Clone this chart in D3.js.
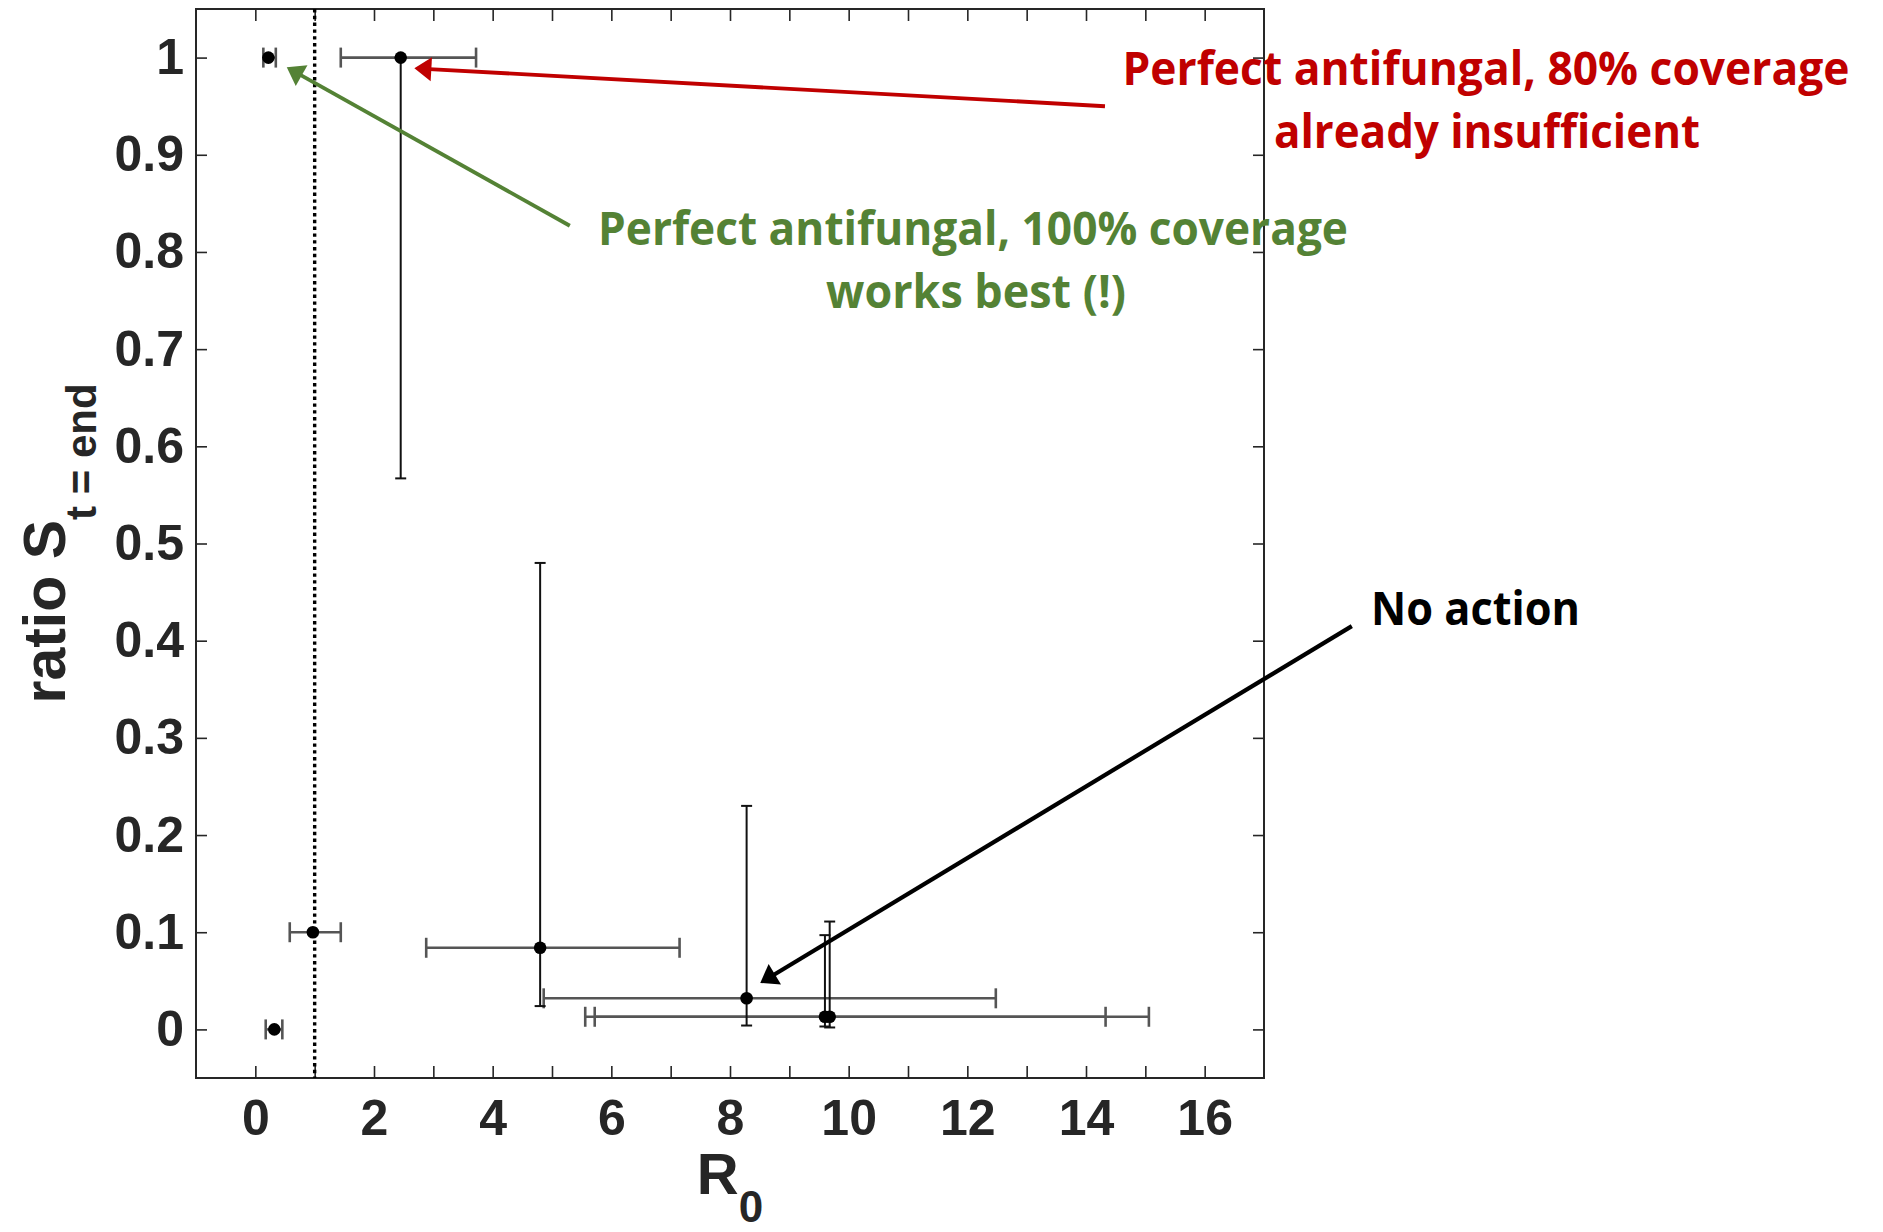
<!DOCTYPE html>
<html>
<head>
<meta charset="utf-8">
<script src="https://cdn.jsdelivr.net/npm/d3@7"></script>
<style>
  html, body { margin: 0; padding: 0; background: #ffffff; }
  svg { display: block; }
</style>
</head>
<body>
<svg id="chart" width="1883" height="1232"></svg>
<script>
// ---------- data ----------
const pointNames = ["A", "B", "C", "D", "E", "F", "G", "H"];
const r0Values  = [0.22, 2.45, 0.32, 0.97, 4.80, 8.28, 9.60, 9.68];
const r0Low     = [0.135, 1.44, 0.175, 0.58, 2.88, 4.86, 5.56, 5.72];
const r0High    = [0.345, 3.72, 0.455, 1.44, 7.15, 12.48, 14.33, 15.06];
const ratioValues = [1.0, 1.0, 0.0, 0.10, 0.084, 0.032, 0.013, 0.013];
const ratioLow    = [1.0, 0.567, 0.0, 0.10, 0.024, 0.004, 0.003, 0.002];
const ratioHigh   = [1.0, 1.0, 0.0, 0.10, 0.480, 0.230, 0.097, 0.111];

const xTickValues = [0,1,2,3,4,5,6,7,8,9,10,11,12,13,14,15,16];
const xTickLabels = ["0","","2","","4","","6","","8","","10","","12","","14","","16"];
const yTickValues = [0,0.1,0.2,0.3,0.4,0.5,0.6,0.7,0.8,0.9,1];
const yTickLabels = ["0","0.1","0.2","0.3","0.4","0.5","0.6","0.7","0.8","0.9","1"];
const thresholdR0 = 1;

const xLabelMain = "R", xLabelSub = "0";
const yLabelMain = "ratio S", yLabelSub = "t = end";

// annotation arrows in data coordinates (tip -> target point)
const arrowColors = ["#C00000", "#548235", "#000000"];
const arrowTailX = [14.32, 5.30, 18.48];
const arrowTailY = [0.950, 0.827, 0.415];
const arrowTipX  = [2.68, 0.53, 8.51];
const arrowTipY  = [0.989, 0.990, 0.0478];

const noteLines = [
  "Perfect antifungal, 80% coverage",
  "already insufficient",
  "Perfect antifungal, 100% coverage",
  "works best (!)",
  "No action"
];
const noteColors = ["#C00000", "#C00000", "#548235", "#548235", "#000000"];

// ---------- layout ----------
const svg = d3.select("#chart");
const plot = {left: 196, right: 1264, top: 9, bottom: 1078};
const axisColor = "#262626";

const x = d3.scaleLinear().domain([-1, 17]).range([plot.left, plot.right]);
const y = d3.scaleLinear().domain([-0.05, 1.05]).range([plot.bottom, plot.top]);

const tickFont = "'Liberation Sans', Arial, Helvetica, sans-serif";

function styleAxis(g) {
  g.select(".domain").remove();
  g.selectAll(".tick line").attr("stroke", axisColor).attr("stroke-width", 1.6);
  g.selectAll(".tick text")
    .attr("fill", axisColor)
    .style("font-family", tickFont)
    .style("font-weight", "bold")
    .style("font-size", "50px");
}

svg.append("g")
  .attr("transform", `translate(0,${plot.bottom})`)
  .call(d3.axisBottom(x).tickValues(xTickValues)
        .tickFormat((d, i) => xTickLabels[i]).tickSize(-12).tickPadding(21))
  .call(styleAxis);

svg.append("g")
  .attr("transform", `translate(0,${plot.top})`)
  .call(d3.axisTop(x).tickValues(xTickValues).tickFormat("").tickSize(-12))
  .call(styleAxis);

svg.append("g")
  .attr("transform", `translate(${plot.left},0)`)
  .call(d3.axisLeft(y).tickValues(yTickValues)
        .tickFormat((d, i) => yTickLabels[i]).tickSize(-11).tickPadding(12))
  .call(styleAxis);

svg.append("g")
  .attr("transform", `translate(${plot.right},0)`)
  .call(d3.axisRight(y).tickValues(yTickValues).tickFormat("").tickSize(-11))
  .call(styleAxis);

svg.append("rect")
  .attr("x", plot.left).attr("y", plot.top)
  .attr("width", plot.right - plot.left).attr("height", plot.bottom - plot.top)
  .attr("fill", "none").attr("stroke", axisColor).attr("stroke-width", 2);

svg.append("line")
  .attr("x1", x(thresholdR0)).attr("x2", x(thresholdR0))
  .attr("y1", plot.top).attr("y2", plot.bottom)
  .attr("stroke", "#000").attr("stroke-width", 3.4)
  .attr("stroke-dasharray", "3.4,3.4");

const rows = pointNames.map((n, i) => ({
  name: n, x: r0Values[i], xl: r0Low[i], xh: r0High[i],
  y: ratioValues[i], yl: ratioLow[i], yh: ratioHigh[i]
}));

const hbar = svg.append("g").attr("stroke", "#555").attr("stroke-width", 2.6);
rows.forEach(d => {
  hbar.append("line").attr("x1", x(d.xl)).attr("x2", x(d.xh))
    .attr("y1", y(d.y)).attr("y2", y(d.y));
  [d.xl, d.xh].forEach(v => {
    hbar.append("line").attr("x1", x(v)).attr("x2", x(v))
      .attr("y1", y(d.y) - 10).attr("y2", y(d.y) + 10);
  });
});

const vbar = svg.append("g").attr("stroke", "#111").attr("stroke-width", 2);
rows.forEach(d => {
  if (d.yl === d.y && d.yh === d.y) return;
  vbar.append("line").attr("x1", x(d.x)).attr("x2", x(d.x))
    .attr("y1", y(d.yl)).attr("y2", y(d.yh));
  if (d.yl !== d.y) vbar.append("line").attr("x1", x(d.x) - 5.5).attr("x2", x(d.x) + 5.5)
      .attr("y1", y(d.yl)).attr("y2", y(d.yl));
  if (d.yh !== d.y) vbar.append("line").attr("x1", x(d.x) - 5.5).attr("x2", x(d.x) + 5.5)
      .attr("y1", y(d.yh)).attr("y2", y(d.yh));
});

svg.append("g").selectAll("circle").data(rows).join("circle")
  .attr("cx", d => x(d.x)).attr("cy", d => y(d.y)).attr("r", 6.3)
  .attr("fill", "#000");

const xl = svg.append("text")
  .attr("x", (plot.left + plot.right) / 2).attr("y", 1194)
  .attr("text-anchor", "middle").attr("fill", axisColor)
  .style("font-family", tickFont).style("font-weight", "bold");
xl.append("tspan").style("font-size", "58px").text(xLabelMain);
xl.append("tspan").style("font-size", "44px").attr("dy", 28).text(xLabelSub);

const yl = svg.append("text")
  .attr("transform", `translate(65,${(plot.top + plot.bottom) / 2}) rotate(-90)`)
  .attr("text-anchor", "middle").attr("fill", axisColor)
  .style("font-family", tickFont).style("font-weight", "bold");
yl.append("tspan").style("font-size", "59px").text(yLabelMain);
yl.append("tspan").style("font-size", "42px").attr("dy", 31).text(yLabelSub);

const headLen = 17, headHalf = 12;
arrowColors.forEach((c, i) => {
  const tx = x(arrowTipX[i]), ty = y(arrowTipY[i]);
  const sx = x(arrowTailX[i]), sy = y(arrowTailY[i]);
  const dx = tx - sx, dy = ty - sy, L = Math.hypot(dx, dy);
  const ux = dx / L, uy = dy / L;
  const bx = tx - ux * headLen, by = ty - uy * headLen;
  svg.append("line").attr("x1", sx).attr("y1", sy).attr("x2", bx + ux * 2).attr("y2", by + uy * 2)
    .attr("stroke", c).attr("stroke-width", i === 2 ? 4.2 : 3.9);
  svg.append("path")
    .attr("d", `M${tx},${ty} L${bx - uy * headHalf},${by + ux * headHalf} L${bx + uy * headHalf},${by - ux * headHalf} Z`)
    .attr("fill", c);
});

const notePos = [
  {cx: 1486, by: 85, w: 727},
  {cx: 1487, by: 148, w: 426},
  {cx: 973, by: 245, w: 750},
  {cx: 976, by: 308, w: 300},
  {cx: 1475.5, by: 625, w: 209}
];
noteLines.forEach((t, i) => {
  svg.append("text")
    .attr("x", notePos[i].cx).attr("y", notePos[i].by)
    .attr("text-anchor", "middle")
    .attr("textLength", notePos[i].w).attr("lengthAdjust", "spacingAndGlyphs")
    .attr("fill", noteColors[i])
    .style("font-family", "'Open Sans', 'Noto Sans', sans-serif")
    .style("font-weight", "bold").style("font-size", "46px")
    .text(t);
});
</script>
</body>
</html>
